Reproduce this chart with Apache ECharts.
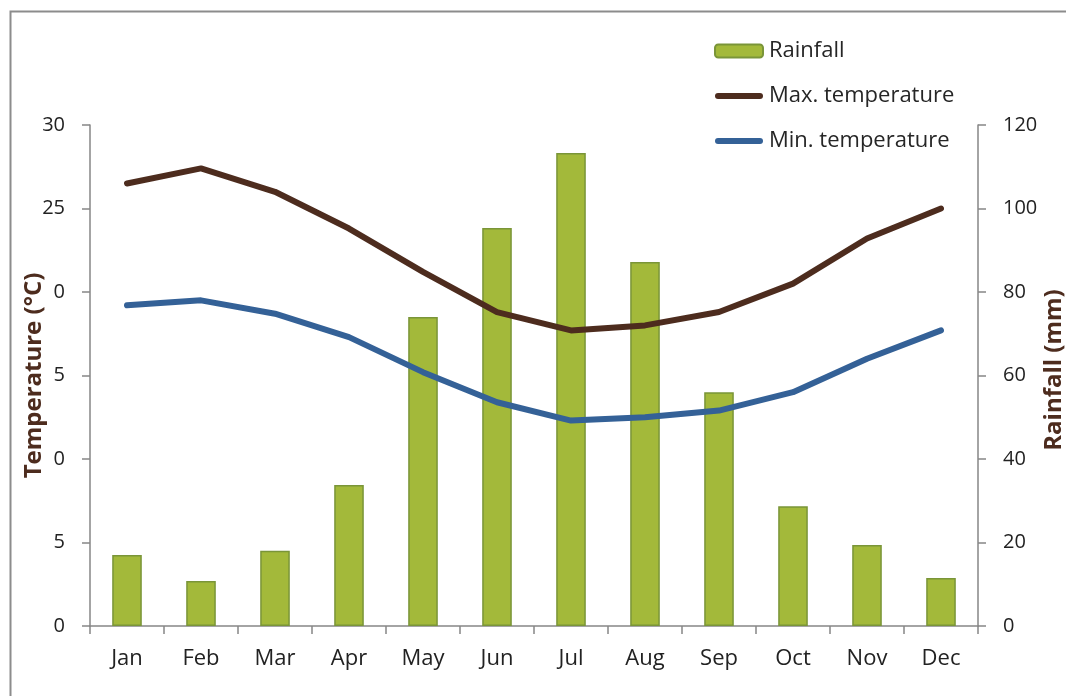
<!DOCTYPE html>
<html>
<head>
<meta charset="utf-8">
<script src="https://cdn.jsdelivr.net/npm/echarts@6/dist/echarts.min.js"></script>
<style>
html,body{margin:0;padding:0;background:#fff;}
#chart{width:1066px;height:696px;}
</style>
</head>
<body>
<div id="chart"></div>
<script>
var months = ['Jan','Feb','Mar','Apr','May','Jun','Jul','Aug','Sep','Oct','Nov','Dec'];
var rainfall = [17.0, 10.8, 18.0, 33.8, 74.0, 95.3, 113.3, 87.2, 56.0, 28.7, 19.4, 11.5];
var maxTemp = [26.5, 27.4, 26.0, 23.8, 21.2, 18.8, 17.7, 18.0, 18.8, 20.5, 23.2, 25.0];
var minTemp = [19.2, 19.5, 18.7, 17.3, 15.2, 13.4, 12.3, 12.5, 12.9, 14.0, 16.0, 17.7];
// tick labels as visible in the picture (first digits of 20/15/10 hidden by the axis title)
var tempTickLabels = ['0', '5', '0', '5', '0', '25', '30'];
var rainTickLabels = ['0', '20', '40', '60', '80', '100', '120'];

var FONT = '"Open Sans", "DejaVu Sans", sans-serif';
var axisGray = '#868686';
var brown = '#4d2c1e';
var blue = '#346197';
var lineIcon = 'path://M3,0 L45,0 A3,3 0 0 1 45,6 L3,6 A3,3 0 0 1 3,0 Z';

var chart = echarts.init(document.getElementById('chart'), null, {renderer: 'canvas'});
chart.setOption({
  animation: false,
  backgroundColor: '#fff',
  textStyle: {fontFamily: FONT},
  graphic: [{
    type: 'rect', left: 8, top: 9, z: -10, silent: true,
    shape: {x: 0, y: 0, width: 1200, height: 800},
    style: {fill: 'none', stroke: '#8c8c8c', lineWidth: 2}
  }],
  legend: {
    orient: 'vertical', left: 714, top: 39, align: 'left', padding: 0,
    itemWidth: 48, itemHeight: 13, itemGap: 21,
    textStyle: {fontFamily: FONT, fontSize: 22, color: '#262626', lineHeight: 24, padding: [0, 0, 0, 1]},
    data: [
      {name: 'Rainfall'},
      {name: 'Max. temperature', icon: lineIcon, itemStyle: {color: brown, borderWidth: 0}},
      {name: 'Min. temperature', icon: lineIcon, itemStyle: {color: blue, borderWidth: 0}}
    ]
  },
  grid: {left: 90, right: 88, top: 125, bottom: 70, containLabel: false, outerBoundsMode: 'none'},
  xAxis: {
    type: 'category', data: months, boundaryGap: true,
    axisLine: {lineStyle: {color: axisGray, width: 1.5}},
    axisTick: {show: true, length: 8, alignWithLabel: false, lineStyle: {color: axisGray, width: 1.5}},
    axisLabel: {fontFamily: FONT, fontSize: 22, color: '#222', margin: 22},
    splitLine: {show: false}
  },
  yAxis: [{
    type: 'value', min: 0, max: 30, interval: 5, position: 'left',
    name: 'Temperature (°C)', nameLocation: 'middle', nameRotate: 90, nameGap: 44, nameMoveOverlap: false,
    nameTextStyle: {fontFamily: FONT, fontSize: 24, fontWeight: 'bold', color: brown},
    axisLine: {show: true, lineStyle: {color: axisGray, width: 1.5}},
    axisTick: {show: true, length: 8, lineStyle: {color: axisGray, width: 1.5}},
    axisLabel: {fontFamily: FONT, fontSize: 20, color: '#222', margin: 25,
      formatter: function (v) { return tempTickLabels[Math.round(v / 5)]; }},
    splitLine: {show: false}
  }, {
    type: 'value', min: 0, max: 120, interval: 20, position: 'right',
    name: 'Rainfall (mm)', nameLocation: 'middle', nameRotate: 90, nameGap: 64, nameMoveOverlap: false,
    nameTextStyle: {fontFamily: FONT, fontSize: 24, fontWeight: 'bold', color: brown, padding: [0, 0, 0, 11]},
    axisLine: {show: true, lineStyle: {color: axisGray, width: 1.5}},
    axisTick: {show: true, length: 8, lineStyle: {color: axisGray, width: 1.5}},
    axisLabel: {fontFamily: FONT, fontSize: 20, color: '#222', margin: 25,
      formatter: function (v) { return rainTickLabels[Math.round(v / 20)]; }},
    splitLine: {show: false}
  }],
  series: [{
    name: 'Rainfall', type: 'bar', yAxisIndex: 1, data: rainfall, barWidth: '40%',
    itemStyle: {color: '#a3b93a', borderColor: '#7a9538', borderWidth: 1.5},
    z: 1
  }, {
    name: 'Max. temperature', type: 'line', yAxisIndex: 0, data: maxTemp,
    symbol: 'none', showSymbol: false, smooth: false,
    lineStyle: {color: brown, width: 6, cap: 'round', join: 'round'},
    itemStyle: {color: brown},
    z: 3
  }, {
    name: 'Min. temperature', type: 'line', yAxisIndex: 0, data: minTemp,
    symbol: 'none', showSymbol: false, smooth: false,
    lineStyle: {color: blue, width: 6, cap: 'round', join: 'round'},
    itemStyle: {color: blue},
    z: 3
  }]
});
</script>
</body>
</html>
